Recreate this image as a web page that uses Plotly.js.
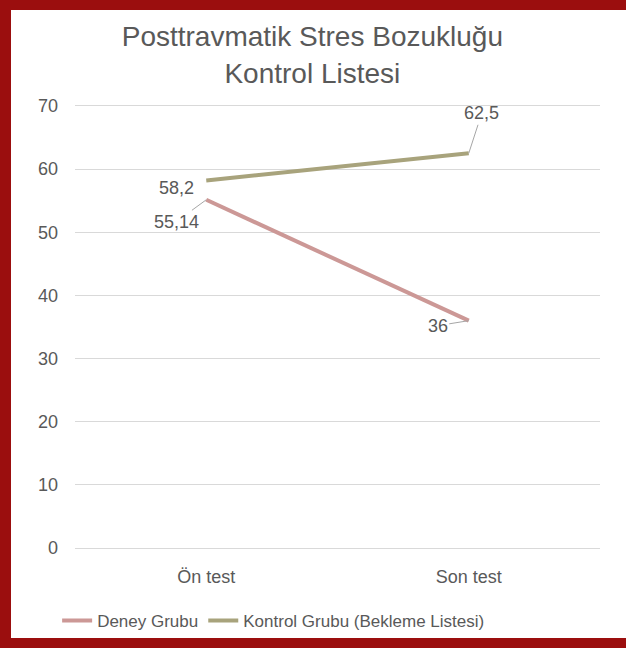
<!DOCTYPE html>
<html>
<head>
<meta charset="utf-8">
<script src="https://cdn.plot.ly/plotly-3.0.1.min.js"></script>
<style>
  body { margin: 0; }
  #frame { position: relative; width: 626px; height: 648px; background: #9b0e0e; }
  #viz { position: absolute; left: 11px; top: 10px; width: 615px; height: 628px; }
</style>
</head>
<body>
<div id="frame"><div id="viz"></div></div>
<script>
var categories = ['Ön test', 'Son test'];
var deneyValues = [55.14, 36];
var kontrolValues = [58.2, 62.5];
var yTicks = [0, 10, 20, 30, 40, 50, 60, 70];

function trLabel(v) { return String(v).replace('.', ','); }

var grey = '#595959';
var fontFam = '"Liberation Sans", Arial, sans-serif';

var deney = {
  x: categories,
  y: deneyValues,
  mode: 'lines',
  name: 'Deney Grubu',
  line: { color: '#cc9896', width: 4 }
};

var kontrol = {
  x: categories,
  y: kontrolValues,
  mode: 'lines',
  name: 'Kontrol Grubu (Bekleme Listesi)',
  line: { color: '#a8a37c', width: 4 }
};

var data = [deney, kontrol];

// data labels, offsets in px
var lbl = function (x, y, ax, ay, arrow) {
  var a = {
    x: x, y: y, xref: 'x', yref: 'y',
    text: trLabel(y),
    font: { family: fontFam, size: 18, color: grey },
    showarrow: arrow,
    arrowhead: 0, arrowwidth: 1, arrowcolor: '#a6a6a6', standoff: 0
  };
  if (arrow) { a.ax = ax; a.ay = ay; }
  else { a.xshift = ax; a.yshift = -ay; }
  return a;
};

var annotations = [
  lbl(categories[0], kontrolValues[0], -30, 8, false),
  lbl(categories[0], deneyValues[0], -30, 22, true),
  lbl(categories[1], kontrolValues[1], 13, -40, true),
  lbl(categories[1], deneyValues[1], -31, 5, true)
];

var layout = {
  width: 615,
  height: 628,
  paper_bgcolor: '#ffffff',
  plot_bgcolor: '#ffffff',
  margin: { l: 64, r: 26, t: 94, b: 88 },
  font: { family: fontFam, color: grey },
  title: {
    text: 'Posttravmatik Stres Bozukluğu<br>Kontrol Listesi',
    font: { family: fontFam, size: 28, color: grey },
    x: 0.49, xanchor: 'center',
    yref: 'container',
    y: 0.942, yanchor: 'top',
    automargin: false
  },
  xaxis: {
    type: 'category',
    range: [-0.5, 1.5],
    showgrid: false,
    zeroline: false,
    showline: false,
    ticks: '',
    automargin: false,
    tickfont: { size: 18, color: grey },
    ticklabelstandoff: 14
  },
  yaxis: {
    range: [-0.3, 70.3],
    tickvals: yTicks,
    showgrid: true,
    gridcolor: '#d9d9d9',
    gridwidth: 1,
    zeroline: false,
    showline: false,
    ticks: '',
    automargin: false,
    tickfont: { size: 18, color: grey },
    ticklabelstandoff: 16
  },
  showlegend: true,
  legend: {
    orientation: 'h',
    xref: 'container',
    x: 0.075, xanchor: 'left',
    yref: 'container',
    y: 0.027, yanchor: 'middle',
    font: { size: 17, color: grey },
    itemwidth: 30,
    bgcolor: 'rgba(0,0,0,0)'
  },
  annotations: annotations
};

Plotly.newPlot('viz', data, layout, { displayModeBar: false });
</script>
</body>
</html>
